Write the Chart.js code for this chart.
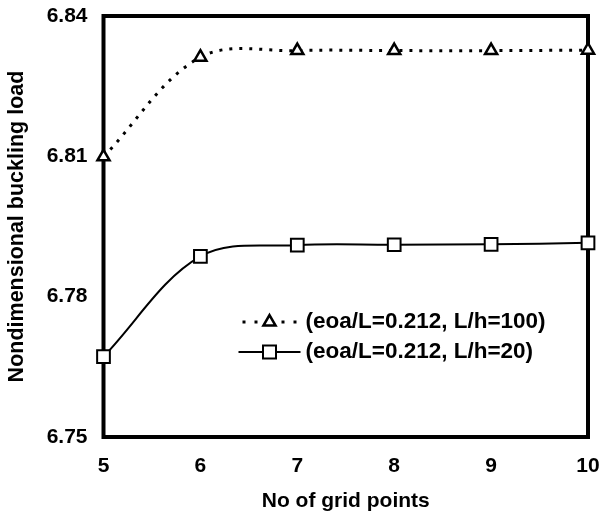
<!DOCTYPE html>
<html>
<head>
<meta charset="utf-8">
<script src="https://cdn.jsdelivr.net/npm/chart.js@4/dist/chart.umd.min.js"></script>
<style>
  html, body { margin: 0; padding: 0; background: #fff; }
</style>
</head>
<body>
<canvas id="bucklingChart" width="604" height="514"></canvas>
<script>
// values
let gridPoints = [5, 6, 7, 8, 9, 10];
let loadLh100 = [6.8099, 6.8312, 6.8326, 6.8326, 6.8326, 6.8327];
let loadLh20 = [6.7672, 6.7886, 6.7910, 6.7911, 6.7912, 6.7915];
let xTicks = [5, 6, 7, 8, 9, 10];
let yTicks = [6.75, 6.78, 6.81, 6.84];
let seriesLabels = ['(eoa/L=0.212, L/h=100)', '(eoa/L=0.212, L/h=20)'];

const FONT = 'Liberation Sans, Arial, sans-serif';

function toPoints(ys) {
  return gridPoints.map((x, i) => ({ x: x, y: ys[i] }));
}

// thick box round the plot
const frameBox = {
  id: 'frameBox',
  beforeDatasetsDraw(chart) {
    const { ctx, chartArea: a } = chart;
    ctx.save();
    ctx.lineWidth = 4;
    ctx.strokeStyle = '#000';
    ctx.strokeRect(a.left, a.top, a.right - a.left, a.bottom - a.top);
    ctx.restore();
  }
};

// legend sits inside the plot
const insideLegend = {
  id: 'insideLegend',
  afterDraw(chart) {
    const { ctx, chartArea: a } = chart;
    const x0 = a.left + 135;
    const len = 62;
    const rows = [a.top + 306, a.top + 336];
    let cx = x0 + len / 2, r = 7;
    ctx.save();
    ctx.strokeStyle = '#000';
    ctx.fillStyle = '#000';

    // row 1: two dots, triangle, two dots
    ctx.lineWidth = 3;
    ctx.setLineDash([3, 9]);
    ctx.beginPath();
    ctx.moveTo(x0 + 4, rows[0]);
    ctx.lineTo(cx - 8, rows[0]);
    ctx.moveTo(cx + 12, rows[0]);
    ctx.lineTo(x0 + len, rows[0]);
    ctx.stroke();
    ctx.setLineDash([]);
    ctx.beginPath();
    ctx.moveTo(cx, rows[0] - r);
    ctx.lineTo(cx + r * 0.866, rows[0] + r / 2);
    ctx.lineTo(cx - r * 0.866, rows[0] + r / 2);
    ctx.closePath();
    ctx.fillStyle = '#fff';
    ctx.fill();
    ctx.lineWidth = 2.5;
    ctx.stroke();

    // row 2: solid + square
    ctx.lineWidth = 2;
    ctx.beginPath();
    ctx.moveTo(x0, rows[1]);
    ctx.lineTo(x0 + len, rows[1]);
    ctx.stroke();
    ctx.fillStyle = '#fff';
    ctx.fillRect(cx - 6.5, rows[1] - 6.5, 13, 13);
    ctx.strokeRect(cx - 6.5, rows[1] - 6.5, 13, 13);

    ctx.fillStyle = '#000';
    ctx.font = 'bold 22.5px ' + FONT;
    ctx.textBaseline = 'middle';
    ctx.textAlign = 'left';
    ctx.fillText(seriesLabels[0], x0 + len + 5, rows[0]);
    ctx.fillText(seriesLabels[1], x0 + len + 5, rows[1]);
    ctx.restore();
  }
};

let bucklingCtx = document.getElementById('bucklingChart').getContext('2d');

let bucklingChart = new Chart(bucklingCtx, {
  type: 'line',
  data: {
    datasets: [{
      label: seriesLabels[0],
      data: toPoints(loadLh100),
      borderColor: '#000',
      borderWidth: 3,
      borderDash: [3, 7],
      tension: 0.35,
      pointStyle: 'triangle',
      pointRadius: 7,
      pointBorderWidth: 2.5,
      pointBackgroundColor: '#fff',
      pointBorderColor: '#000',
      clip: false
    }, {
      label: seriesLabels[1],
      data: toPoints(loadLh20),
      borderColor: '#000',
      borderWidth: 2,
      tension: 0.35,
      pointStyle: 'rect',
      pointRadius: 9,
      pointBorderWidth: 2,
      pointBackgroundColor: '#fff',
      pointBorderColor: '#000',
      clip: false
    }]
  },
  options: {
    responsive: false,
    animation: false,
    layout: {
      padding: { top: 16, right: 16, left: 0, bottom: 0 }
    },
    plugins: {
      legend: { display: false },
      tooltip: { enabled: false }
    },
    scales: {
      x: {
        type: 'linear',
        min: 5,
        max: 10,
        grid: { display: false, drawTicks: false },
        border: { display: false },
        afterBuildTicks: (scale) => { scale.ticks = xTicks.map(v => ({ value: v })); },
        afterFit: (scale) => {
          scale.height = 77;
          scale.paddingLeft = 0;
          scale.paddingRight = 0;
        },
        ticks: {
          padding: 17,
          color: '#000',
          font: { family: FONT, size: 21, weight: 'bold' }
        },
        title: {
          display: true,
          text: 'No of grid points',
          color: '#000',
          padding: { top: 0, bottom: 0 },
          font: { family: FONT, size: 21, weight: 'bold' }
        }
      },
      y: {
        min: 6.75,
        max: 6.84,
        grid: { display: false, drawTicks: false },
        border: { display: false },
        afterBuildTicks: (scale) => { scale.ticks = yTicks.map(v => ({ value: v })); },
        afterFit: (scale) => {
          scale.width = 103.5;
          scale.paddingTop = 0;
          scale.paddingBottom = 0;
        },
        ticks: {
          padding: 16,
          color: '#000',
          font: { family: FONT, size: 21, weight: 'bold' },
          callback: (v) => Number(v).toFixed(2)
        },
        title: {
          display: true,
          text: 'Nondimensional buckling load',
          color: '#000',
          padding: { top: 4, bottom: 0 },
          font: { family: FONT, size: 21.5, weight: 'bold' }
        }
      }
    }
  },
  plugins: [frameBox, insideLegend]
});

bucklingChart.render();
</script>
</body>
</html>
